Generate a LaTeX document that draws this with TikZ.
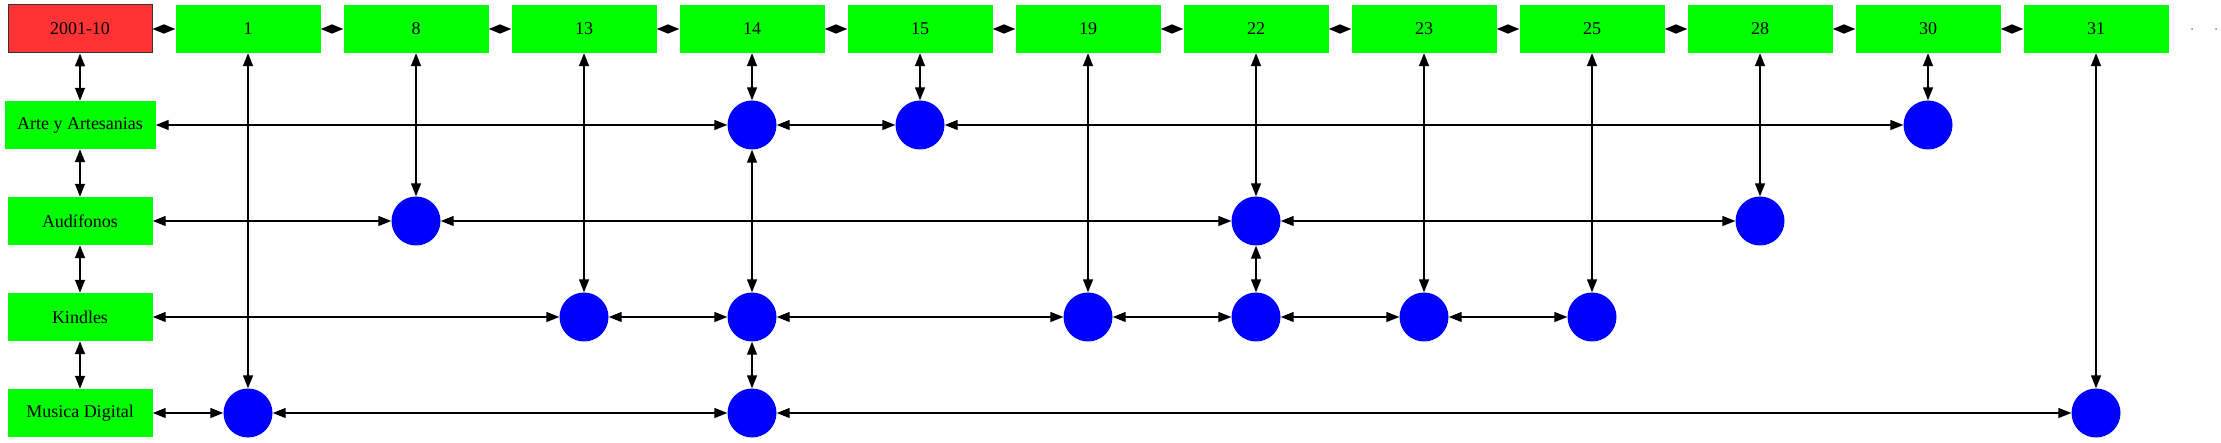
\documentclass[tikz,border=0pt]{standalone}
\usepackage{fontspec}
\setmainfont{Liberation Serif}
\usetikzlibrary{arrows.meta}
\definecolor{gr}{HTML}{00FF00}
\definecolor{rd}{HTML}{FF3333}
\definecolor{bl}{HTML}{0000FF}
\begin{document}
\begin{tikzpicture}[x=1pt,y=-1pt,
 box/.style={fill=gr, minimum width=145pt, minimum height=48pt, inner sep=0pt, font=\fontsize{18}{20}\selectfont},
 dot/.style={circle, fill=bl, minimum size=49pt, inner sep=0pt},
 link/.style={line width=1.3pt, {Triangle[length=13pt,width=10pt]}-{Triangle[length=13pt,width=10pt]}},
 hlink/.style={line width=1.3pt, {Triangle[length=11.5pt,width=9pt]}-{Triangle[length=11.5pt,width=9pt]}}]
\useasboundingbox (0,0) rectangle (2221,443);
% header row
\node[box, fill=rd, draw=black!80, line width=1pt, minimum width=144pt] (h0) at (80,29) {2001-10};
\node[box] (h1) at (248,29) {1};
\node[box] (h8) at (416,29) {8};
\node[box] (h13) at (584,29) {13};
\node[box] (h14) at (752,29) {14};
\node[box] (h15) at (920,29) {15};
\node[box] (h19) at (1088,29) {19};
\node[box] (h22) at (1256,29) {22};
\node[box] (h23) at (1424,29) {23};
\node[box] (h25) at (1592,29) {25};
\node[box] (h28) at (1760,29) {28};
\node[box] (h30) at (1928,29) {30};
\node[box] (h31) at (2096,29) {31};
\fill[gray] (2192,29) circle (1pt) (2216,29) circle (1pt);
% row labels
\node[box, minimum width=151pt] (rA) at (80,125) {Arte y Artesanias};
\node[box] (rB) at (80,221) {Audífonos};
\node[box] (rC) at (80,317) {Kindles};
\node[box] (rD) at (80,413) {Musica Digital};
% circles
\node[dot] (a14) at (752,125) {};
\node[dot] (a15) at (920,125) {};
\node[dot] (a30) at (1928,125) {};
\node[dot] (b8) at (416,221) {};
\node[dot] (b22) at (1256,221) {};
\node[dot] (b28) at (1760,221) {};
\node[dot] (c13) at (584,317) {};
\node[dot] (c14) at (752,317) {};
\node[dot] (c19) at (1088,317) {};
\node[dot] (c22) at (1256,317) {};
\node[dot] (c23) at (1424,317) {};
\node[dot] (c25) at (1592,317) {};
\node[dot] (d1) at (248,413) {};
\node[dot] (d14) at (752,413) {};
\node[dot] (d31) at (2096,413) {};
% header chain
\foreach \a/\b in {h0/h1,h1/h8,h8/h13,h13/h14,h14/h15,h15/h19,h19/h22,h22/h23,h23/h25,h25/h28,h28/h30,h30/h31}
  \draw[hlink] (\a) -- (\b);
% left column
\foreach \a/\b in {h0/rA,rA/rB,rB/rC,rC/rD}
  \draw[link] (\a) -- (\b);
% rows
\foreach \a/\b in {rA/a14,a14/a15,a15/a30,
                   rB/b8,b8/b22,b22/b28,
                   rC/c13,c13/c14,c14/c19,c19/c22,c22/c23,c23/c25,
                   rD/d1,d1/d14,d14/d31}
  \draw[link] (\a) -- (\b);
% columns
\foreach \a/\b in {h1/d1,h8/b8,h13/c13,h14/a14,a14/c14,c14/d14,h15/a15,h19/c19,
                   h22/b22,b22/c22,h23/c23,h25/c25,h28/b28,h30/a30,h31/d31}
  \draw[link] (\a) -- (\b);
\end{tikzpicture}
\end{document}
